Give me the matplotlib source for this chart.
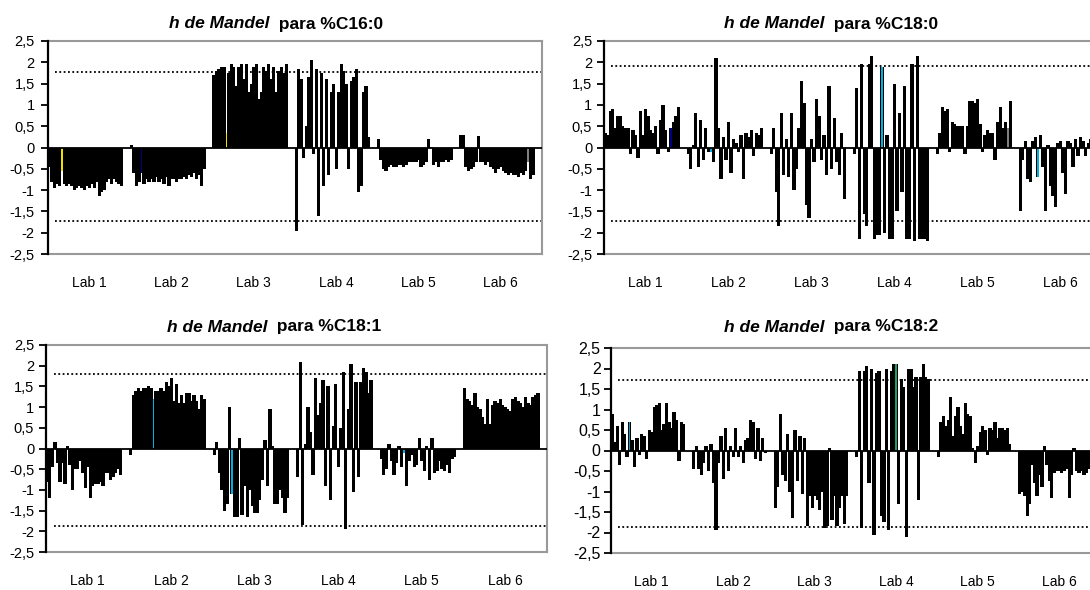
import matplotlib
matplotlib.use("Agg")
import matplotlib.pyplot as plt

plt.rcParams['font.family'] = ['Liberation Sans', 'DejaVu Sans']

labs = ["Lab 1", "Lab 2", "Lab 3", "Lab 4", "Lab 5", "Lab 6"]
n_blank = 3  # empty categories between labs

# %C16:0
c160 = [
    [-0.45, -0.8, -0.95, -0.85, -0.9, -0.55, -0.85, -0.9, -0.85, -0.9, -1.0, -0.95, -0.9, -0.95, -1.0,
     -0.9, -0.95, -0.85, -0.95, -0.8, -1.15, -1.05, -1.0, -0.8, -0.75, -0.85, -0.75, -0.8, -0.85, -0.9],
    [0.05, -0.6, -0.9, -0.8, -0.6, -0.85, -0.75, -0.8, -0.75, -0.8, -0.7, -0.8, -0.75, -0.85, -0.7,
     -0.9, -0.75, -0.75, -0.8, -0.75, -0.75, -0.7, -0.75, -0.65, -0.7, -0.6, -0.75, -0.65, -0.9, -0.5],
    [1.7, 1.8, 1.85, 1.9, 1.9, 0.35, 1.75, 1.95, 1.9, 1.45, 1.9, 1.95, 1.6, 1.95, 1.3,
     1.5, 1.9, 1.95, 1.15, 1.3, 1.9, 1.8, 1.95, 1.6, 1.9, 1.3, 1.8, 1.9, 1.75, 1.95],
    [-1.95, 1.85, 1.6, -0.25, 0.5, 1.65, 2.05, -0.15, 1.85, -1.6, 1.75, -0.9, 1.6, -0.65, 1.3,
     1.5, -0.5, 1.3, 1.95, 1.8, 1.5, -0.5, 1.55, 1.65, 1.85, -1.05, -0.9, 1.3, 1.45, 0.25],
    [0.2, -0.3, -0.5, -0.55, -0.45, -0.4, -0.45, -0.45, -0.4, -0.4, -0.45, -0.4, -0.35, -0.35, -0.35,
     -0.35, -0.3, -0.45, -0.4, -0.35, 0.2, 0.02, -0.4, -0.35, -0.45, -0.35, -0.35, -0.3, -0.35, -0.3],
    [0.3, 0.3, -0.45, -0.55, -0.5, -0.45, -0.35, 0.28, -0.35, -0.35, -0.4, -0.35, -0.45, -0.5, -0.6,
     -0.5, -0.45, -0.55, -0.6, -0.65, -0.6, -0.65, -0.65, -0.7, -0.6, -0.65, -0.55, -0.35, -0.75, -0.65],
]
# %C18:0
c180 = [
    [0.35, 0.3, 0.85, 0.9, 0.45, 0.75, 0.75, 0.5, 0.45, 0.45, -0.15, 0.4, 0.3, -0.25, 0.85,
     0.3, 0.9, 0.75, 0.4, 0.35, 0.5, -0.15, 0.65, 1.0, 0.4, -0.1, 0.45, 0.6, 0.75, 0.95],
    [-0.15, -0.5, 0.05, 0.8, -0.45, 0.65, -0.3, 0.45, -0.1, -0.1, -0.35, 2.1, 0.45, -0.75, 0.25,
     -0.3, 0.6, -0.6, 0.2, 0.1, -0.1, 0.3, -0.75, 0.35, 0.25, 0.4, -0.2, 0.35, 0.3, 0.45],
    [-0.15, 0.45, -1.05, -1.85, 0.8, -0.65, 0.2, -0.7, 0.8, -1.0, -0.5, 0.45, 1.55, 1.05, -1.35,
     -1.65, 0.2, -0.35, 1.15, 0.75, -0.3, 0.3, -0.65, 1.45, -0.5, 0.7, -0.35, -0.65, 0.35, -1.2],
    [-0.15, 1.4, -2.15, 1.95, -1.55, -1.85, 1.95, 2.15, -2.15, -2.05, -2.05, 1.9, -2.0, 0.3, -2.15,
     -2.15, 1.5, -1.5, 0.8, -1.05, 1.45, -2.15, -2.15, 1.95, -2.2, 2.15, -2.15, -2.15, -2.15, -2.2],
    [-0.15, 0.35, 0.95, 0.85, 0.9, -0.1, 0.6, 0.55, 0.5, 0.5, 0.5, -0.15, 0.5, 1.1, 1.1,
     1.05, 1.15, 0.55, -0.1, 0.3, 0.4, 0.35, 0.35, -0.3, 0.6, 0.95, 0.45, 0.6, 0.45, 1.1],
    [-1.5, -0.3, 0.15, -0.75, -0.8, 0.15, 0.25, -0.7, 0.3, -0.45, -1.5, 0.05, -0.9, -1.15, -1.4,
     0.1, 0.15, -0.6, -1.1, 0.15, 0.1, -0.45, 0.2, -0.2, 0.25, 0.15, -0.2, 0.1, 0.2, -0.2],
]
# %C18:1
c181 = [
    [-0.8, -1.2, -0.45, 0.15, -0.35, -0.8, -0.35, -0.85, 0.05, -0.4, -1.0, -0.5, -0.5, -0.3, -0.6,
     -0.95, -0.45, -1.2, -0.9, -0.85, -0.85, -0.8, -0.9, -0.6, -0.6, -0.75, -0.7, -0.6, -0.5, -0.65],
    [-0.15, 1.3, 1.4, 1.45, 1.4, 1.45, 1.45, 1.5, 1.45, 1.2, 1.4, 1.4, 1.45, 1.4, 1.6,
     1.5, 1.7, 1.15, 1.55, 1.1, 1.3, 1.1, 1.35, 1.35, 1.15, 1.3, 1.15, 0.95, 1.3, 1.2],
    [-0.15, 0.15, -0.6, -1.0, -1.5, -1.35, 1.0, -1.1, -1.65, -1.65, 0.25, -1.6, -0.9, -1.65, -1.0,
     -1.4, -1.55, -1.55, -1.25, -0.75, 0.2, -0.9, 0.95, 0.05, -1.35, -1.35, -1.0, -1.2, -1.55, -1.2],
    [-0.7, 2.1, -1.85, 0.1, 1.0, 0.4, -0.65, 1.7, 0.8, 1.1, 1.65, -0.9, 1.5, -1.25, 0.55,
     1.55, -0.45, 0.5, 1.85, -1.95, 0.95, 2.05, -1.05, 1.6, -0.7, 1.6, 1.95, 1.85, 1.35, 1.65],
    [-0.25, -0.65, -0.5, 0.1, -0.3, -0.65, -0.35, 0.05, -0.45, -0.1, -0.9, -0.3, -0.15, -0.45, -0.4,
     0.25, -0.3, -0.55, 0.05, -0.75, 0.25, -0.6, -0.55, -0.3, -0.5, -0.55, -0.4, -0.6, -0.25, -0.2],
    [1.45, 1.2, 1.15, 1.05, 1.35, 1.0, 0.95, 0.75, 0.6, 1.2, 0.6, 1.05, 1.15, 1.1, 1.2,
     1.05, 1.0, 0.95, 0.9, 1.2, 1.25, 1.15, 1.1, 1.0, 1.25, 1.1, 1.05, 1.25, 1.3, 1.35],
]
# %C18:2
c182 = [
    [0.9, 0.2, 0.6, -0.35, 0.7, 0.4, -0.15, 0.7, 0.25, -0.4, 0.3, -0.1, 0.4, 0.35, -0.2,
     0.5, 0.45, 1.05, 1.1, 1.15, 0.5, 0.65, 1.15, 0.7, 0.55, 0.95, 0.75, -0.25, 0.7, 0.65],
    [-0.45, 0.1, -0.45, -0.6, -0.3, 0.1, -0.5, 0.15, -0.8, -1.95, -0.3, 0.35, -0.7, 0.55, -0.5,
     0.1, -0.15, 0.55, -0.15, 0.1, -0.3, 0.25, 0.3, 0.75, 0.7, -0.2, 0.55, -0.25, 0.3, -0.05],
    [-1.4, -0.9, 0.9, -0.6, -0.75, 0.4, -1.0, -1.65, 0.5, -0.75, 0.35, -1.05, 0.3, -1.85, -1.1,
     -1.4, -1.1, -1.2, -1.45, -1.0, -1.9, -1.85, 0.05, -1.7, -1.1, -1.85, -1.4, -1.1, -1.8, -1.1],
    [-0.15, 1.95, -1.9, 1.95, 2.05, -0.8, 2.0, -2.05, 1.9, 1.95, -1.6, -1.75, 2.0, -1.95, 1.95,
     2.1, 2.1, -1.3, 1.75, 1.55, -2.1, 2.0, 2.0, 1.55, 1.8, -1.2, 1.8, 2.1, 1.8, 1.75],
    [-0.15, 0.7, 0.85, 0.6, 0.75, 1.3, 0.35, 0.85, 1.05, 0.6, 0.4, 1.15, 0.9, 0.85, 0.05,
     -0.3, 0.1, 0.45, 0.6, 0.5, -0.1, 0.55, 0.5, 0.7, 0.3, 0.55, 0.55, 0.5, 0.55, 0.15],
    [-1.05, -1.0, -1.1, -1.6, -1.3, -0.35, -0.8, -1.1, -0.6, -0.9, 0.1, -0.35, -0.75, -1.15, -0.55,
     -0.5, -0.5, -0.55, -0.5, -0.45, -1.15, -0.6, 0.05, -0.5, -0.55, -0.5, -0.6, -0.55, -0.45, -0.35],
]

# critical h (upper, lower)
limits = [(1.78, -1.72), (1.92, -1.72), (1.81, -1.86), (1.72, -1.86)]
# coloured bars: (lab, index, colour)
highlights = [
    [(0, 5, '#f0e000'), (1, 4, '#000080'), (2, 5, '#f0e000'), (5, 27, '#808080')],
    [(0, 26, '#000080'), (1, 9, '#00b0e0'), (3, 11, '#00b0e0'), (4, 28, '#808080'), (5, 7, '#00b0e0')],
    [(1, 9, '#00b0e0'), (2, 7, '#00b0e0'), (4, 9, '#00b0e0')],
    [(0, 7, '#00a0d0'), (3, 16, '#20a060')],
]
names = ["%C16:0", "%C18:0", "%C18:1", "%C18:2"]
panels = [c160, c180, c181, c182]

# axes boxes in pixels: left, top, right, bottom
boxes = [(48, 41, 542, 254), (604, 41, 1102, 254), (46, 345, 547, 552), (611, 348, 1100, 553)]
title_pos = [(276, 24), (831, 24), (274, 327), (831, 327)]
tick_size = [10.5, 10.5, 10.5, 11.5]
tick_pad = [4.5, 3.5, 3.5, 2.5]

W, H = 1090, 590
fig = plt.figure(figsize=(W / 100, H / 100), dpi=100)

for p, data in enumerate(panels):
    l, t, r, b = boxes[p]
    ax = fig.add_axes([l / W, 1 - b / H, (r - l) / W, (b - t) / H])
    n = len(data[0])
    slot = n + n_blank
    xs, hs = [], []
    for k, vals in enumerate(data):
        for i, v in enumerate(vals):
            xs.append(k * slot + i + 0.5)
            hs.append(v)
    ax.bar(xs, hs, width=1.3, color='black', linewidth=0)
    for k, i, c in highlights[p]:
        ax.bar(k * slot + i + 0.5, data[k][i], width=0.7, color=c, linewidth=0, zorder=3)
    ax.axhline(0, color='black', lw=1.3, zorder=4)
    up, lo = limits[p]
    ax.axhline(up, color='black', lw=1.3, ls=(0, (1, 1.4)), xmin=0.015)
    ax.axhline(lo, color='black', lw=1.3, ls=(0, (1, 1.4)), xmin=0.015)
    ax.set_xlim(0, slot * 6)
    ax.set_ylim(-2.5, 2.5)
    ax.set_xticks([])
    yt = [-2.5, -2, -1.5, -1, -0.5, 0, 0.5, 1, 1.5, 2, 2.5]
    ax.set_yticks(yt)
    ax.set_yticklabels([('%g' % v).replace('.', ',') for v in yt], fontsize=tick_size[p])
    ax.tick_params(axis='y', length=5, width=1.3, pad=tick_pad[p])
    ax.spines['left'].set_linewidth(1.6)
    ax.spines['left'].set_zorder(5)
    for s in ['top', 'right', 'bottom']:
        ax.spines[s].set_color('#999999')
        ax.spines[s].set_linewidth(1.5)
    for k, lab in enumerate(labs):
        ax.annotate(lab, xy=(k * slot + slot / 2, 0), xycoords=('data', 'axes fraction'),
                    xytext=(0, -21), textcoords='offset points', ha='center', va='center',
                    fontsize=10)

    # title: italic bold part + bold part
    cx, cy = title_pos[p]
    t1 = fig.text(0, 1 - cy / H, "h de Mandel", fontsize=12.5, fontweight='bold',
                  fontstyle='italic', va='center')
    t2 = fig.text(0, 1 - cy / H, "  para " + names[p], fontsize=12.5, fontweight='bold', va='center')
    rend = fig.canvas.get_renderer()
    w1 = t1.get_window_extent(rend).width
    w2 = t2.get_window_extent(rend).width
    x0 = cx - (w1 + w2) / 2
    t1.set_x(x0 / W)
    t2.set_x((x0 + w1) / W)

fig.savefig("out.png", dpi=100)
